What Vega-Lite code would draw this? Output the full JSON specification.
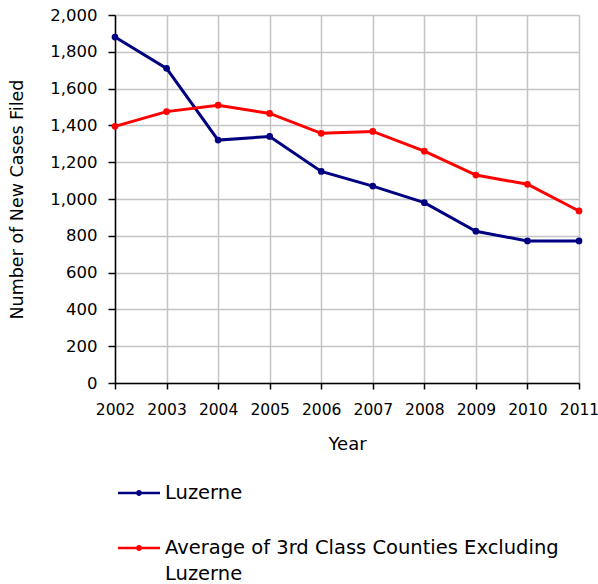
{
  "$schema": "https://vega.github.io/schema/vega-lite/v6.json",
  "width": 464,
  "height": 368,
  "autosize": {"type": "none"},
  "padding": {"left": 115, "top": 15, "right": 19, "bottom": 201},
  "background": "white",
  "config": {
    "font": "DejaVu Sans",
    "view": {"stroke": null}
  },
  "data": {
    "values": [
      {"year": 2002, "series": "Luzerne", "cases": 1880},
      {"year": 2003, "series": "Luzerne", "cases": 1710},
      {"year": 2004, "series": "Luzerne", "cases": 1320},
      {"year": 2005, "series": "Luzerne", "cases": 1340},
      {"year": 2006, "series": "Luzerne", "cases": 1150},
      {"year": 2007, "series": "Luzerne", "cases": 1070},
      {"year": 2008, "series": "Luzerne", "cases": 980},
      {"year": 2009, "series": "Luzerne", "cases": 825},
      {"year": 2010, "series": "Luzerne", "cases": 772},
      {"year": 2011, "series": "Luzerne", "cases": 772},
      {"year": 2002, "series": "Average of 3rd Class Counties Excluding Luzerne", "cases": 1395},
      {"year": 2003, "series": "Average of 3rd Class Counties Excluding Luzerne", "cases": 1475},
      {"year": 2004, "series": "Average of 3rd Class Counties Excluding Luzerne", "cases": 1510},
      {"year": 2005, "series": "Average of 3rd Class Counties Excluding Luzerne", "cases": 1465},
      {"year": 2006, "series": "Average of 3rd Class Counties Excluding Luzerne", "cases": 1357},
      {"year": 2007, "series": "Average of 3rd Class Counties Excluding Luzerne", "cases": 1367},
      {"year": 2008, "series": "Average of 3rd Class Counties Excluding Luzerne", "cases": 1260},
      {"year": 2009, "series": "Average of 3rd Class Counties Excluding Luzerne", "cases": 1130},
      {"year": 2010, "series": "Average of 3rd Class Counties Excluding Luzerne", "cases": 1080},
      {"year": 2011, "series": "Average of 3rd Class Counties Excluding Luzerne", "cases": 935}
    ]
  },
  "encoding": {
    "x": {
      "field": "year",
      "type": "quantitative",
      "scale": {"domain": [2002, 2011], "nice": false, "zero": false},
      "axis": {
        "values": [2002, 2003, 2004, 2005, 2006, 2007, 2008, 2009, 2010, 2011],
        "format": "d",
        "title": "Year",
        "titleFont": "DejaVu Sans",
        "titleFontSize": 18,
        "titleFontWeight": "normal",
        "titleColor": "black",
        "titlePadding": 18,
        "labelFont": "DejaVu Sans",
        "labelFontSize": 15.5,
        "labelColor": "black",
        "labelPadding": 13,
        "labelFlush": false,
        "labelOverlap": false,
        "domainColor": "black",
        "domainWidth": 1.5,
        "tickColor": "black",
        "tickWidth": 1.5,
        "tickSize": 6,
        "gridColor": "#c4c4c4",
        "gridWidth": 1.5,
        "gridOpacity": 1
      }
    },
    "y": {
      "field": "cases",
      "type": "quantitative",
      "scale": {"domain": [0, 2000], "nice": false},
      "axis": {
        "values": [0, 200, 400, 600, 800, 1000, 1200, 1400, 1600, 1800, 2000],
        "format": ",d",
        "title": "Number of New Cases Filed",
        "titleFont": "DejaVu Sans",
        "titleFontSize": 17.5,
        "titleFontWeight": "normal",
        "titleColor": "black",
        "titlePadding": 23,
        "labelFont": "DejaVu Sans",
        "labelFontSize": 16.5,
        "labelColor": "black",
        "labelPadding": 11,
        "labelFlush": false,
        "labelOverlap": false,
        "domainColor": "black",
        "domainWidth": 1.5,
        "tickColor": "black",
        "tickWidth": 1.5,
        "tickSize": 7,
        "gridColor": "#c4c4c4",
        "gridWidth": 1.5,
        "gridOpacity": 1
      }
    },
    "color": {
      "field": "series",
      "type": "nominal",
      "sort": ["Luzerne", "Average of 3rd Class Counties Excluding Luzerne"],
      "scale": {
        "domain": ["Luzerne", "Average of 3rd Class Counties Excluding Luzerne"],
        "range": ["#000080", "#ff0000"]
      },
      "legend": {
        "title": null,
        "orient": "none",
        "legendX": 3,
        "legendY": 457,
        "direction": "vertical",
        "padding": 0,
        "rowPadding": 24,
        "symbolType": "M-1,-0.065H1V0.065H-1Z M-0.14,0 A0.14,0.14 0 1,1 0.14,0 A0.14,0.14 0 1,1 -0.14,0Z",
        "symbolSize": 1764,
        "symbolStrokeWidth": 0,
        "symbolOpacity": 1,
        "labelFont": "DejaVu Sans",
        "labelFontSize": 19.5,
        "labelColor": "black",
        "labelOffset": 5,
        "labelLimit": 500,
        "labelBaseline": "middle",
        "labelExpr": "datum.label == 'Luzerne' ? 'Luzerne' : ['Average of 3rd Class Counties Excluding', 'Luzerne']",
        "encode": {
          "labels": {"update": {"lineHeight": {"value": 25.5}}}
        }
      }
    }
  },
  "layer": [
    {"mark": {"type": "line", "strokeWidth": 3}},
    {"mark": {"type": "point", "filled": true, "size": 45, "opacity": 1}}
  ]
}
